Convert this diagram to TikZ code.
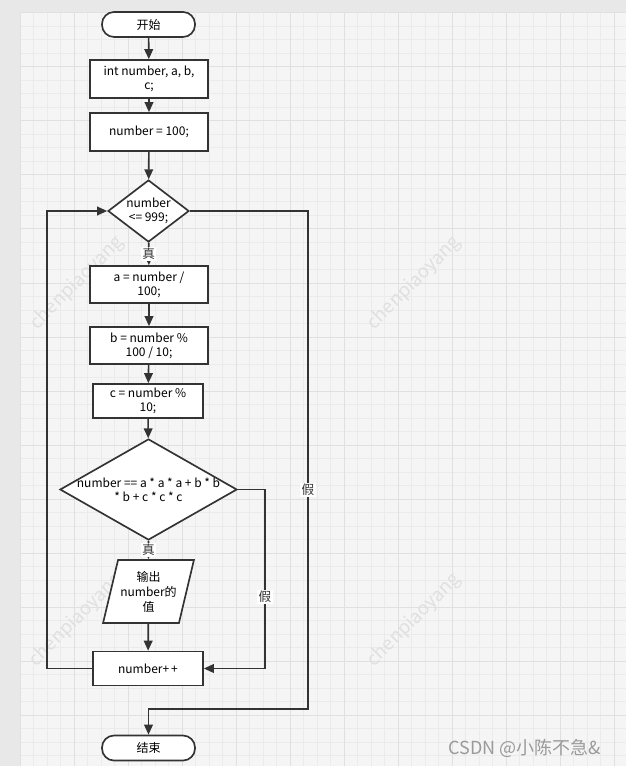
\documentclass[tikz,border=0pt]{standalone}
\usepackage{fontspec}
\setmainfont{Noto Sans CJK SC}
\definecolor{flujoLinea}{HTML}{333333}
\definecolor{flujoFondo}{HTML}{F5F5F5}
\definecolor{flujoMarco}{HTML}{E8E8E8}
\definecolor{flujoRejilla}{HTML}{EBEBEB}
\definecolor{flujoRejillaFuerte}{HTML}{E0E0E0}
\definecolor{flujoMarca}{HTML}{E0E0E0}
\definecolor{flujoFirma}{HTML}{9A9A9A}
\usetikzlibrary{
	arrows.meta,
	positioning,
	shapes.geometric
}
\tikzset{
	inicioFin/.style={
		draw=flujoLinea,
		line width=1.25pt,
		fill=white,
		rounded corners=9pt,
		minimum width=69.75pt,
		minimum height=18.75pt,
		inner sep=0pt,
		font=\fontsize{9}{10.5}\selectfont
	},
	proceso/.style={
		draw=flujoLinea,
		line width=1.25pt,
		fill=white,
		align=center,
		inner sep=0pt,
		font=\fontsize{9}{10.5}\selectfont
	},
	decision/.style={
		draw=flujoLinea,
		line width=1.25pt,
		fill=white,
		diamond,
		inner sep=0pt
	},
	entradaSalida/.style={
		draw=flujoLinea,
		line width=1.25pt,
		fill=white,
		trapezium,
		trapezium left angle=71.6,
		trapezium right angle=108.4,
		trapezium stretches=true,
		align=center,
		inner sep=1pt,
		font=\fontsize{9}{11.25}\selectfont
	},
	textoCentro/.style={
		align=center,
		inner sep=0pt,
		font=\fontsize{9}{10.5}\selectfont
	},
	etiqueta/.style={
		fill=white,
		inner sep=1pt,
		font=\fontsize{9.5}{10.5}\selectfont
	},
	flecha/.style={
		-{Triangle[length=7.5pt, width=6.5pt]},
		line width=1.25pt,
		flujoLinea
	},
	marcaAgua/.style={
		text=flujoMarca,
		font=\fontsize{14}{14}\selectfont,
		rotate=45
	}
}

\begin{document}
\begin{tikzpicture}[x=0.75pt, y=-0.75pt]
		\useasboundingbox (0,0) rectangle (626,766);
		\fill[flujoMarco] (0,0) rectangle (626,766);
		\fill[flujoFondo] (20,13) rectangle (626,766);
		\foreach \i in {0,...,44}
			\draw[flujoRejilla, line width=0.75pt] (20+13.5*\i,13) -- (20+13.5*\i,766);
		\foreach \i in {0,...,55}
			\draw[flujoRejilla, line width=0.75pt] (20,13+13.5*\i) -- (626,13+13.5*\i);
		\foreach \i in {0,4,...,44}
			\draw[flujoRejillaFuerte, line width=0.75pt] (20+13.5*\i,13) -- (20+13.5*\i,766);
		\foreach \i in {0,4,...,52}
			\draw[flujoRejillaFuerte, line width=0.75pt] (20,13+13.5*\i) -- (626,13+13.5*\i);
		\node[marcaAgua] (marca1) at (77,283) {chenpiaoyang};
		\node[marcaAgua] (marca2) at (414,283) {chenpiaoyang};
		\node[marcaAgua] (marca3) at (76,620) {chenpiaoyang};
		\node[marcaAgua] (marca4) at (414,620) {chenpiaoyang};
		\node[inicioFin] (inicio) at (148.5,24.5) {开始};
		\node[proceso, minimum width=88.5pt, minimum height=28.5pt] (declarar) at (149,79) {int number, a, b,\\c;};
		\node[proceso, minimum width=88.5pt, minimum height=28.5pt] (asignar) at (149,132) {number = 100;};
		\node[decision, minimum width=60.75pt, minimum height=46.5pt,
			label={[textoCentro]center:{number\\<= 999;}}] (ciclo) at (148.5,211) {};
		\node[proceso, minimum width=88.5pt, minimum height=27.75pt] (calcA) at (149,284.5) {a = number /\\100;};
		\node[proceso, minimum width=88.5pt, minimum height=27.75pt] (calcB) at (149,345.5) {b = number \%\\100 / 10;};
		\node[proceso, minimum width=82.5pt, minimum height=25.5pt] (calcC) at (148,401) {c = number \%\\10;};
		\node[decision, minimum width=132.75pt, minimum height=75.75pt,
			label={[textoCentro]center:{number == a * a * a + b * b\\* b + c * c * c}}] (comparar) at (148.5,489.5) {};
		\node[entradaSalida, minimum width=68.25pt, minimum height=47.25pt] (mostrar) at (148.5,591.5) {输出\\number的\\值};
		\node[proceso, minimum width=82.5pt, minimum height=25.5pt] (incrementar) at (148,668.5) {number+\,+};
		\node[inicioFin] (fin) at (148.5,748) {结束};
		\coordinate (salida) at (308,709);
		\draw[flecha] (inicio) -- (declarar);
		\draw[flecha] (declarar) -- (asignar);
		\draw[flecha] (asignar) -- (ciclo);
		\draw[flecha] (ciclo) -- node[etiqueta] {真} (calcA);
		\draw[flecha] (calcA) -- (calcB);
		\draw[flecha] (calcB) -- (calcC);
		\draw[flecha] (calcC) -- (comparar);
		\draw[flecha] (comparar) -- node[etiqueta] {真} (mostrar);
		\draw[flecha] (mostrar) -- (incrementar);
		\draw[flecha] (incrementar.west) -- ++(-45,0) |- (ciclo.west);
		\draw[flecha] (ciclo.east) -| node[etiqueta, pos=0.78] {假} (salida) -| (fin.north);
		\draw[flecha] (comparar.east) -- ++(27,0) |- node[etiqueta, pos=0.3] {假} (incrementar.east);
		\node[text=flujoFirma, font=\fontsize{13.5}{13.5}\selectfont] (firma) at (525,748) {CSDN @小陈不急\&};
	\end{tikzpicture}
\end{document}
